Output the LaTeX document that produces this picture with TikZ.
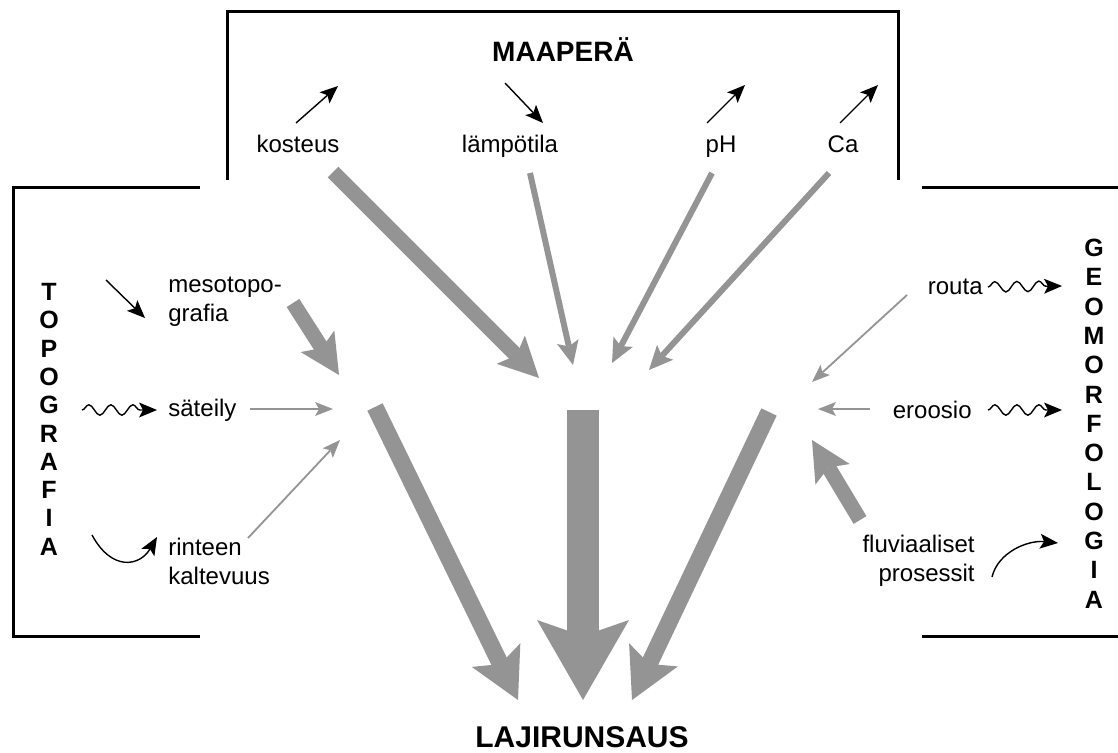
\documentclass[tikz,border=0pt]{standalone}
\usepackage{fontspec}
\setmainfont{Liberation Sans}
\usetikzlibrary{arrows.meta,decorations.pathmorphing}
\definecolor{flowgray}{RGB}{148,148,148}
\tikzset{
  lbl/.style={inner sep=0pt, font=\fontsize{12}{14.5}\selectfont},
  heading/.style={inner sep=0pt, font=\fontsize{14}{16}\selectfont\bfseries},
  vletter/.style={inner sep=0pt, anchor=base, font=\fontsize{12.5}{14}\selectfont\bfseries},
  frame/.style={line width=1.5pt, black},
  trend/.style={line width=0.7pt, -{Stealth[length=9pt,width=7.5pt,inset=2pt,line width=0pt]}},
  wave/.style={trend, decorate, decoration={snake, amplitude=2.6pt, segment length=11pt, post length=6pt}},
  thinflow/.style={flowgray, line width=0.9pt, -{Stealth[length=9pt,width=7pt,inset=2pt,line width=0pt]}},
  midflow/.style={flowgray, line width=3pt, -{Stealth[length=12pt,width=11pt,inset=2.5pt,line width=0pt]}},
  thickflow/.style={flowgray, line width=7.5pt, -{Stealth[length=20pt,width=20pt,inset=4pt,line width=0pt]}},
  sideflow/.style={flowgray, line width=8.5pt, -{Stealth[length=25pt,width=27pt,inset=5pt,line width=0pt]}},
  mainflow/.style={flowgray, line width=16pt, -{Stealth[length=40pt,width=46pt,inset=8pt,line width=0pt]}},
}
\begin{document}
\begin{tikzpicture}[x=0.5pt, y=-0.5pt]
\useasboundingbox (0,0) rectangle (1118,753);

% frames
\draw[frame] (227,180) -- (227,12) -- (898,12) -- (898,180);
\draw[frame] (200,188) -- (13,188) -- (13,636) -- (200,636);
\draw[frame] (922,188) -- (1118,188);
\draw[frame] (922,636) -- (1118,636);

% texts
\node[heading] (maapera) at (563,50) {MAAPERÄ};
\node[lbl, anchor=base] (kosteus) at (298,153) {kosteus};
\node[lbl, anchor=base] (lampotila) at (510,153) {lämpötila};
\node[lbl, anchor=base] (ph) at (721,153) {pH};
\node[lbl, anchor=base] (ca) at (843,153) {Ca};
\node[lbl, anchor=west, align=left] (meso) at (168,302) {mesotopo-\\grafia};
\node[lbl, anchor=west] (sateily) at (168,410) {säteily};
\node[lbl, anchor=west, align=left] (rinne) at (168,561) {rinteen\\kaltevuus};
\node[lbl, anchor=east] (routa) at (983,287) {routa};
\node[lbl, anchor=east] (eroosio) at (972,410) {eroosio};
\node[lbl, anchor=east, align=right] (fluvi) at (975,561) {fluviaaliset\\prosessit};
\node[heading, font=\fontsize{15}{17}\selectfont\bfseries] (lajirunsaus) at (582,737) {LAJIRUNSAUS};

\foreach \ch [count=\i from 0] in {T,O,P,O,G,R,A,F,I,A}
  \node[vletter] (topo-\i) at (49,{300.5+28.3*\i}) {\ch};
\foreach \ch [count=\i from 0] in {G,E,O,M,O,R,F,O,L,O,G,I,A}
  \node[vletter] (geo-\i) at (1094,{256.5+29.3*\i}) {\ch};

% trend arrows
\coordinate (kosteus-a) at (296,123);  \coordinate (kosteus-b) at (338,86);
\coordinate (lampotila-a) at (505,83); \coordinate (lampotila-b) at (543,123);
\coordinate (ph-a) at (707,123);       \coordinate (ph-b) at (745,85);
\coordinate (ca-a) at (840,123);       \coordinate (ca-b) at (878,85);
\coordinate (meso-a) at (106,280);     \coordinate (meso-b) at (145,318);
\coordinate (sateily-a) at (82,410);   \coordinate (sateily-b) at (157,410);
\coordinate (rinne-a) at (92,535);     \coordinate (rinne-b) at (157,537);
\coordinate (routa-a) at (988,287);    \coordinate (routa-b) at (1062,286);
\coordinate (eroosio-a) at (988,410);  \coordinate (eroosio-b) at (1062,410);
\coordinate (fluvi-a) at (992,577);    \coordinate (fluvi-b) at (1058,543);

\draw[trend] (kosteus-a) -- (kosteus-b);
\draw[trend] (lampotila-a) -- (lampotila-b);
\draw[trend] (ph-a) -- (ph-b);
\draw[trend] (ca-a) -- (ca-b);
\draw[trend] (meso-a) -- (meso-b);
\draw[wave] (sateily-a) -- (sateily-b);
\draw[trend] (rinne-a) .. controls (112,572) and (140,566) .. (rinne-b);
\draw[wave] (routa-a) -- (routa-b);
\draw[wave] (eroosio-a) -- (eroosio-b);
\draw[trend] (fluvi-a) .. controls (998,552) and (1028,540) .. (fluvi-b);

% effects
\coordinate (kosteus-s) at (333,172);   \coordinate (kosteus-t) at (539,378);
\coordinate (lampotila-s) at (530,173); \coordinate (lampotila-t) at (573,365);
\coordinate (ph-s) at (712,173);        \coordinate (ph-t) at (612,363);
\coordinate (ca-s) at (829,173);        \coordinate (ca-t) at (649,370);
\coordinate (meso-s) at (293,303);      \coordinate (meso-t) at (339,375);
\coordinate (sateily-s) at (250,409);   \coordinate (sateily-t) at (333,409);
\coordinate (rinne-s) at (248,538);     \coordinate (rinne-t) at (340,440);
\coordinate (routa-s) at (907,295);     \coordinate (routa-t) at (812,382);
\coordinate (eroosio-s) at (870,409);   \coordinate (eroosio-t) at (818,409);
\coordinate (fluvi-s) at (860,520);     \coordinate (fluvi-t) at (812,440);

\draw[thickflow] (kosteus-s) -- (kosteus-t);
\draw[midflow] (lampotila-s) -- (lampotila-t);
\draw[midflow] (ph-s) -- (ph-t);
\draw[midflow] (ca-s) -- (ca-t);
\draw[thickflow] (meso-s) -- (meso-t);
\draw[thinflow] (sateily-s) -- (sateily-t);
\draw[thinflow] (rinne-s) -- (rinne-t);
\draw[thinflow] (routa-s) -- (routa-t);
\draw[thinflow] (eroosio-s) -- (eroosio-t);
\draw[thickflow] (fluvi-s) -- (fluvi-t);

\coordinate (topo-s) at (375,407);  \coordinate (topo-t) at (518,700);
\coordinate (maa-s) at (583,410);   \coordinate (maa-t) at (583,700);
\coordinate (geo-s) at (769,412);   \coordinate (geo-t) at (632,700);
\draw[sideflow] (topo-s) -- (topo-t);
\draw[mainflow] (maa-s) -- (maa-t);
\draw[sideflow] (geo-s) -- (geo-t);
\end{tikzpicture}
\end{document}
